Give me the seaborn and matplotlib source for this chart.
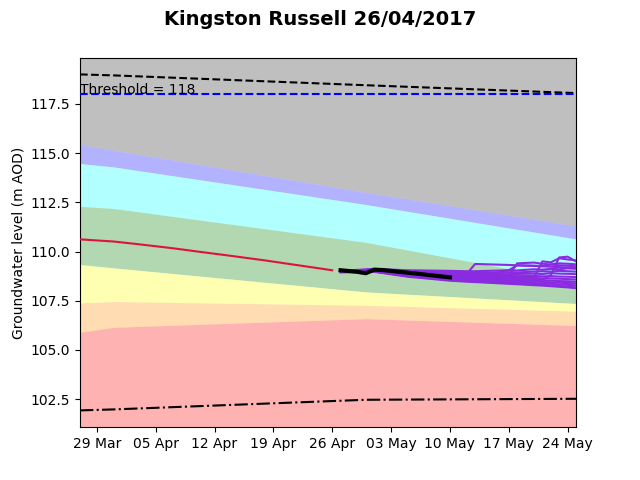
import matplotlib
matplotlib.use("Agg")
import matplotlib.pyplot as plt
import matplotlib.dates as mdates
import pandas as pd
import seaborn as sns

# ---------------- data ----------------
title = "Kingston Russell 26/04/2017"
ylabel = "Groundwater level (m AOD)"
threshold = 118

band_dates = pd.to_datetime(["2017-03-27", "2017-03-31", "2017-04-30", "2017-05-25"])
level_max = [119.00, 118.95, 118.45, 118.05]
level_min = [101.93, 101.98, 102.47, 102.52]
lavender_top = [115.44, 115.15, 113.01, 111.30]
cyan_top = [114.47, 114.30, 112.39, 110.64]
green_top = [112.30, 112.19, 110.47, 108.50]
yellow_top = [109.34, 109.17, 107.95, 107.36]
orange_top = [107.39, 107.46, 107.27, 106.97]
red_top = [105.90, 106.15, 106.59, 106.24]

hist_dates = pd.to_datetime(["2017-03-27", "2017-03-31", "2017-04-03", "2017-04-07",
                             "2017-04-10", "2017-04-14", "2017-04-18", "2017-04-22",
                             "2017-04-26"])
hist_level = [110.62, 110.51, 110.37, 110.17, 110.00, 109.78, 109.55, 109.30, 109.05]

obs_dates = pd.to_datetime(["2017-04-27", "2017-04-28", "2017-04-29", "2017-04-30",
                            "2017-05-01", "2017-05-02", "2017-05-06", "2017-05-10"])
obs_level = [109.05, 109.01, 108.97, 108.90, 109.08, 109.06, 108.88, 108.69]

ens_dates = pd.to_datetime(["2017-04-27", "2017-05-01", "2017-05-05", "2017-05-10",
                            "2017-05-12", "2017-05-13", "2017-05-17", "2017-05-18",
                            "2017-05-20", "2017-05-21", "2017-05-22", "2017-05-23",
                            "2017-05-24", "2017-05-25"])
ens_members = {
    "m01": [109.02, 109.12, 109.05, 109.02, 109.00, 109.00, 109.05, 109.04, 109.10, 109.08, 109.12, 109.10, 109.15, 109.12],
    "m02": [109.00, 109.10, 109.00, 108.95, 108.93, 108.92, 108.95, 108.94, 108.98, 109.00, 108.98, 109.02, 109.00, 108.98],
    "m03": [109.00, 109.08, 108.96, 108.90, 108.88, 108.87, 108.85, 108.86, 108.88, 108.86, 108.90, 108.88, 108.87, 108.85],
    "m04": [108.98, 109.06, 108.92, 108.84, 108.82, 108.80, 108.76, 108.75, 108.76, 108.74, 108.75, 108.73, 108.72, 108.70],
    "m05": [108.98, 109.05, 108.88, 108.78, 108.75, 108.74, 108.68, 108.67, 108.66, 108.64, 108.63, 108.62, 108.60, 108.58],
    "m06": [108.97, 109.04, 108.85, 108.72, 108.68, 108.66, 108.60, 108.58, 108.56, 108.54, 108.52, 108.50, 108.49, 108.47],
    "m07": [108.96, 109.02, 108.82, 108.66, 108.62, 108.60, 108.53, 108.51, 108.48, 108.46, 108.44, 108.42, 108.40, 108.38],
    "m08": [108.96, 109.00, 108.78, 108.60, 108.56, 108.54, 108.46, 108.44, 108.40, 108.38, 108.36, 108.33, 108.31, 108.28],
    "m09": [108.95, 108.98, 108.75, 108.55, 108.50, 108.48, 108.40, 108.38, 108.33, 108.31, 108.28, 108.25, 108.22, 108.18],
    "m10": [108.95, 108.97, 108.72, 108.52, 108.47, 108.45, 108.36, 108.34, 108.29, 108.27, 108.24, 108.21, 108.18, 108.14],
    "s01": [109.00, 109.08, 108.94, 108.88, 108.86, 109.37, 109.32, 109.30, 109.27, 109.25, 109.23, 109.21, 109.19, 109.17],
    "s02": [108.99, 109.06, 108.90, 108.82, 108.80, 108.78, 108.76, 109.40, 109.44, 109.38, 109.34, 109.30, 109.28, 109.25],
    "s03": [108.98, 109.05, 108.87, 108.76, 108.73, 108.72, 108.70, 108.69, 108.68, 109.50, 109.45, 109.66, 109.60, 109.55],
    "s04": [108.97, 109.03, 108.84, 108.70, 108.67, 108.65, 108.62, 108.60, 108.58, 108.57, 108.80, 109.70, 109.74, 109.50],
    "s05": [108.98, 109.04, 108.86, 108.74, 108.70, 108.69, 109.05, 109.30, 109.28, 109.26, 109.35, 109.40, 109.38, 109.35],
}

# ---------------- plot ----------------
fig, ax = plt.subplots(figsize=(6.4, 4.8), dpi=100)

bands = pd.DataFrame({"date": band_dates, "max": level_max, "min": level_min})
sns.lineplot(data=bands, x="date", y="max", ax=ax, color="black",
             linestyle="--", linewidth=1.5, zorder=5)
sns.lineplot(data=bands, x="date", y="min", ax=ax, color="black",
             linestyle="-.", linewidth=1.5, zorder=5)

ylo, yhi = ax.get_ylim()
xlo, xhi = band_dates[0], band_dates[-1]

fills = [
    (lavender_top, [yhi] * len(band_dates), "grey", 0.5),
    (cyan_top, lavender_top, "blue", 0.3),
    (green_top, cyan_top, "cyan", 0.3),
    (yellow_top, green_top, "green", 0.3),
    (orange_top, yellow_top, "yellow", 0.3),
    (red_top, orange_top, "darkorange", 0.3),
    ([ylo] * len(band_dates), red_top, "red", 0.3),
]
for lo, hi, col, a in fills:
    ax.fill_between(band_dates, lo, hi, color=col, alpha=a, linewidth=0, zorder=1)

ax.axhline(threshold, color="blue", linestyle="--", linewidth=1.5, zorder=5)
ax.text(xlo, threshold, f"Threshold = {threshold}", fontsize=10, zorder=6)

hist = pd.DataFrame({"date": hist_dates, "level": hist_level})
sns.lineplot(data=hist, x="date", y="level", ax=ax, color="crimson",
             linewidth=1.5, zorder=6)

ens = pd.concat([pd.DataFrame({"date": ens_dates, "level": v, "member": k})
                 for k, v in ens_members.items()], ignore_index=True)
sns.lineplot(data=ens, x="date", y="level", units="member", estimator=None,
             ax=ax, color="blueviolet", linewidth=1.5, zorder=7)

obs = pd.DataFrame({"date": obs_dates, "level": obs_level})
sns.lineplot(data=obs, x="date", y="level", ax=ax, color="black",
             linewidth=3, zorder=8)

ax.set_xlim(xlo, xhi)
ax.set_ylim(ylo, yhi)
ax.xaxis.set_major_locator(mdates.WeekdayLocator(byweekday=mdates.WE))
ax.xaxis.set_major_formatter(mdates.DateFormatter("%d %b"))
ax.set_xlabel("")
ax.set_ylabel(ylabel)
fig.suptitle(title, fontsize=14, fontweight="bold")

fig.savefig("out.png", dpi=100)
